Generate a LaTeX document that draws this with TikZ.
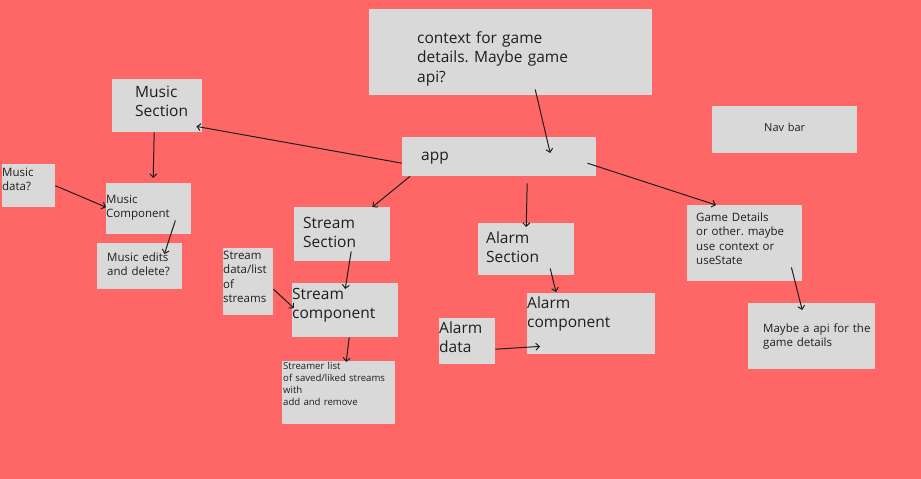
\documentclass[tikz,border=0pt]{standalone}
\usepackage{fontspec}
\setmainfont{Open Sans}
\frenchspacing
\usetikzlibrary{calc,arrows.meta}
\definecolor{boardred}{RGB}{255,102,102}
\definecolor{cardgrey}{RGB}{217,217,217}
\definecolor{ink}{RGB}{30,30,30}
\tikzset{every node/.style={fill=cardgrey,anchor=north west,inner xsep=0pt,inner ysep=0pt,align=left,text=ink}}
\tikzset{link/.style={-{Straight Barb[length=3.5pt,width=7pt]},line width=1pt,draw=ink}}
\tikzset{pad/.style={execute at begin node={\leftskip=#1\rightskip=-3em plus 1fil\relax}}}
\tikzset{big/.style={font=\fontsize{15.5}{19.5}\selectfont}}
\tikzset{small/.style={font=\fontsize{11.5}{14.5}\selectfont}}
\tikzset{tiny/.style={font=\fontsize{9.6}{12}\selectfont}}

\begin{document}
\begin{tikzpicture}[x=1pt,y=-1pt]
\fill[boardred] (0,0) rectangle (921,479);
\useasboundingbox (0,0) rectangle (921,479);

\node[big,pad=48pt,text width=283pt,text height=34pt,text depth=52pt](ctx) at (369,9) {context for game\\details. Maybe game\\api?};
\node[big,pad=19pt,text width=194pt,text height=23pt,text depth=16pt](app) at (402,137) {app};
\node[font=\fontsize{11}{13}\selectfont,align=center,text width=145pt,text height=25pt,text depth=22pt](nav) at (712,106) {Nav bar};
\node[big,pad=23pt,text width=90pt,text height=18pt,text depth=35pt](musicsec) at (112,79) {Music\\Section};
\node[small,pad=0pt,text width=53pt,text height=12pt,text depth=31pt](musicdata) at (2,164) {Music\\data?};
\node[small,pad=0pt,text width=85pt,text height=20pt,text depth=31pt](musiccomp) at (106,183) {Music\\Component};
\node[small,pad=10pt,text width=85pt,text height=18pt,text depth=28pt](musicedit) at (97,243) {Music edits\\and delete?};
\node[small,pad=0pt,text width=50pt,text height=11pt,text depth=56pt](streamdata) at (223,248) {Stream\\data/list\\of\\streams};
\node[big,pad=9pt,text width=96pt,text height=21pt,text depth=33pt](streamsec) at (294,207) {Stream\\Section};
\node[big,pad=0pt,text width=106pt,text height=16pt,text depth=38pt](streamcomp) at (292,283) {Stream\\component};
\node[tiny,pad=1pt,text width=113pt,text height=8pt,text depth=55pt](streamerlist) at (282,361) {Streamer list\\of saved/liked streams\\with\\add and remove};
\node[big,pad=8pt,text width=96pt,text height=20pt,text depth=32pt](alarmsec) at (478,223) {Alarm\\Section};
\node[big,pad=0pt,text width=128pt,text height=15pt,text depth=46pt](alarmcomp) at (527,293) {Alarm\\component};
\node[big,pad=0pt,text width=56pt,text height=15pt,text depth=31pt](alarmdata) at (439,318) {Alarm\\data};
\node[small,pad=9pt,text width=115pt,text height=16pt,text depth=60pt](gamedet) at (687,205) {Game Details\\or other. maybe\\use context or\\useState};
\node[small,pad=15pt,text width=127pt,text height=29pt,text depth=37pt](apigame) at (748,303) {Maybe a api for the\\game details};

% music branch
\draw[link] ($(app.west)+(0,6.5)$) -- ($(musicsec.south east)+(-6,-6)$);
\draw[link] ($(musicsec.south)+(-3,0)$) -- ($(musiccomp.north)+(4.5,-5)$);
\draw[link] (musicdata.east) -- ($(musiccomp.west)+(0,-1.5)$);
\draw[link] ($(musiccomp.south east)+(-16,-14)$) -- ($(musicedit.north east)+(-18,11)$);
% stream branch
\draw[link] ($(app.south west)+(8,0)$) -- ($(streamsec.north east)+(-18,0)$);
\draw[link] ($(streamsec.south)+(9,-10)$) -- ($(streamcomp.north)+(0,6)$);
\draw[link] ($(streamdata.east)+(0,7.5)$) -- ($(streamcomp.west)+(2,-2)$);
\draw[link] ($(streamcomp.south)+(4,0)$) -- ($(streamerlist.north)+(7.5,1)$);
% alarm branch
\draw[link] ($(app.south)+(28,7)$) -- ($(alarmsec.north)+(0,4)$);
\draw[link] ($(alarmsec.south)+(24,-7)$) -- ($(alarmcomp.north west)+(29,-1)$);
\draw[link] ($(alarmdata.east)+(0,8)$) -- ($(alarmcomp.south west)+(13,-8)$);
% game details
\draw[link] ($(ctx.south)+(24.5,-6)$) -- ($(app.north)+(51,16)$);
\draw[link] ($(app.east)+(-9,6.5)$) -- ($(gamedet.north west)+(29,0)$);
\draw[link] ($(gamedet.south east)+(-11,-14)$) -- ($(apigame.north)+(-9.5,7)$);
\end{tikzpicture}
\end{document}
